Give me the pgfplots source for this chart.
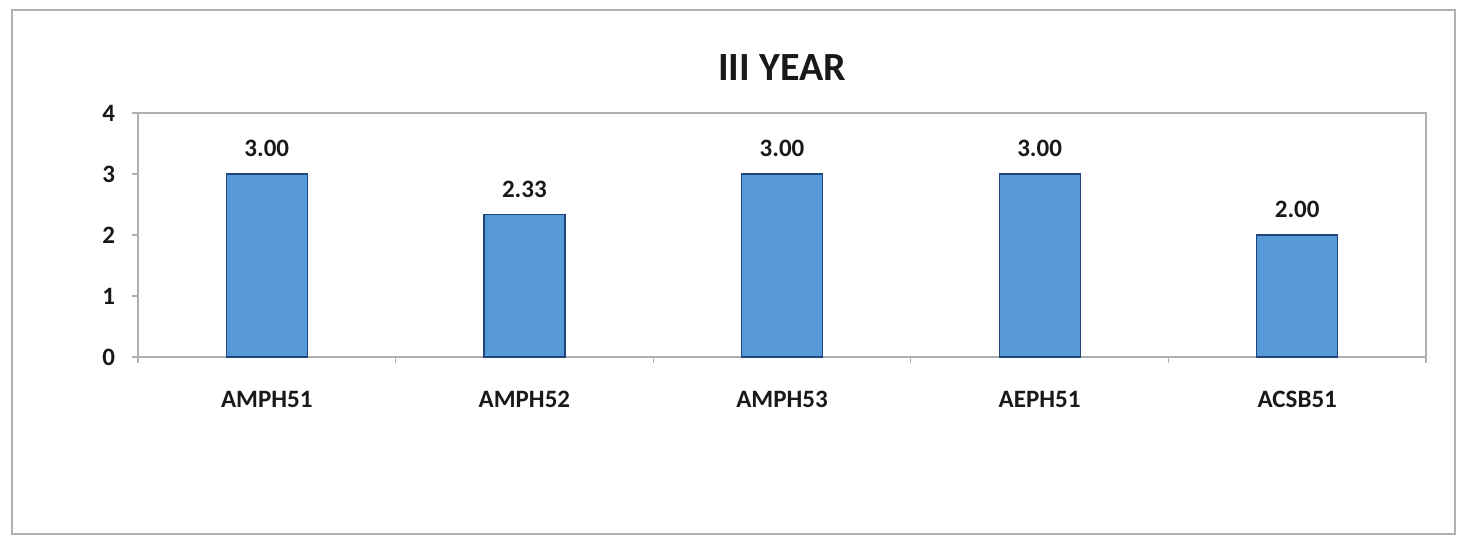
\documentclass[border=0pt]{standalone}
\usepackage{fontspec}
\setmainfont{Carlito}
\usepackage{pgfplots}
\pgfplotsset{compat=1.18}
\definecolor{barblue}{RGB}{86,152,216}
\definecolor{barline}{RGB}{30,70,120}
\definecolor{axgray}{RGB}{175,175,180}
\definecolor{txt}{RGB}{25,25,25}
\begin{document}
\begin{tikzpicture}
\path[use as bounding box] (0,0) rectangle (730.5pt,268.5pt);
\draw[axgray, line width=0.8pt] (6pt,263.5pt) rectangle (727.5pt,1.5pt);
\begin{axis}[
  at={(69pt,90pt)}, anchor=south west,
  scale only axis, width=644pt, height=122pt,
  xmin=-0.5, xmax=4.5, ymin=0, ymax=4,
  ytick={0,1,2,3,4},
  xtick={0,1,2,3,4},
  xticklabels={AMPH51,AMPH52,AMPH53,AEPH51,ACSB51},
  minor xtick={-0.5,0.5,1.5,2.5,3.5,4.5},
  major x tick style={draw=none},
  xtick pos=lower, ytick pos=left,
  tick align=outside,
  major tick length=3pt, minor tick length=3pt,
  every tick/.style={axgray, line width=0.6pt},
  axis line style={axgray, line width=0.8pt},
  /pgf/number format/assume math mode=true,
  tick label style={font=\fontsize{12.5}{15}\selectfont\bfseries, text=txt},
  xticklabel style={yshift=-10.5pt},
  yticklabel style={xshift=-5pt},
  title={III YEAR},
  title style={font=\fontsize{20}{24}\selectfont\bfseries, text=txt, at={(0.5,1)}, anchor=base, yshift=10.5pt},
  nodes near coords={\pgfmathprintnumber[fixed, fixed zerofill, precision=2, assume math mode=true]{\pgfplotspointmeta}},
  every node near coord/.append style={font=\fontsize{12.5}{15}\selectfont\bfseries, text=txt, yshift=5pt},
]
\addplot[ybar, bar width=40.5pt, fill=barblue, draw=barline, line width=0.6pt] coordinates {
  (0,3.00) (1,2.33) (2,3.00) (3,3.00) (4,2.00)
};
\end{axis}
\end{tikzpicture}
\end{document}
